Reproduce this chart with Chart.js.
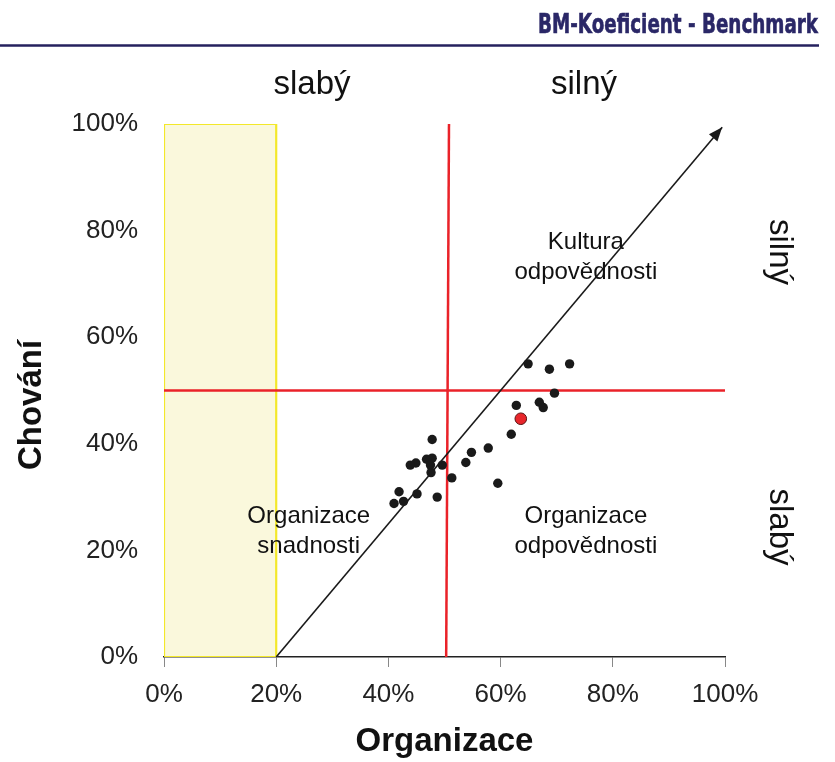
<!DOCTYPE html>
<html><head><meta charset="utf-8">
<script src="https://cdn.jsdelivr.net/npm/chart.js@4/dist/chart.umd.min.js"></script>
<style>html,body{margin:0;padding:0;background:#fff}#wrap{width:835px;height:762px;position:relative}</style>
</head><body>
<div id="wrap"><canvas id="c"></canvas></div>
<script>
// ---- data ----
const headerTitle = 'BM-Koeficient - Benchmark';
const xTitle = 'Organizace';
const yTitle = 'Chování';
const tickLabels = ['0%', '20%', '40%', '60%', '80%', '100%'];
const tickValues = [0, 20, 40, 60, 80, 100];
const columnLabels = ['slabý', 'silný'];        // top: Organizace weak / strong
const rowLabels = ['silný', 'slabý'];           // right: Chování strong / weak
const quadrantTexts = [['Kultura', 'odpovědnosti'], ['Organizace', 'snadnosti'], ['Organizace', 'odpovědnosti']];
const quadrantX = [75.2, 25.8, 75.2];
const quadrantY = [75.0, 23.6, 23.6];

// benchmark companies (Organizace %, Chování %)
const orgValues = [64.9, 68.7, 72.3, 69.6, 62.8, 66.9, 67.6, 61.9, 57.8, 54.8, 53.8, 59.5, 51.3, 49.6, 47.8, 47.8, 46.8, 47.5, 47.6, 44.9, 43.9, 48.7, 45.1, 41.9, 42.7, 41.0];
const behValues = [55.0, 54.0, 55.0, 49.5, 47.2, 47.8, 46.8, 41.8, 39.2, 38.4, 36.5, 32.6, 33.6, 36.0, 40.8, 37.3, 37.1, 36.0, 34.6, 36.4, 36.0, 30.0, 30.6, 31.0, 29.2, 28.8];
// highlighted company
const ownOrg = [63.6];
const ownBeh = [44.7];

// weak zone (Organizace 0–20 %), thresholds and trend arrow
const weakZoneX = [0, 0, 20, 20];
const weakZoneY = [0, 100, 100, 0];
const weakBaseX = [0, 20];
const weakBaseY = [0, 0];
const thresholdVX = [50.8, 50.3];
const thresholdVY = [100, 0];
const thresholdHX = [0, 100];
const thresholdHY = [50, 50];
const trendX = [20, 99.5];
const trendY = [0, 99.4];

const pts = (xs, ys) => xs.map((x, i) => ({x, y: ys[i]}));

const FONT = "'Liberation Sans', Arial, sans-serif";

const extras = {
  id: 'extras',
  afterDatasetsDraw(chart) {
    const {ctx} = chart;
    const xs = chart.scales.x, ys = chart.scales.y;
    // arrow head on trend line
    const x1 = xs.getPixelForValue(trendX[0]), y1 = ys.getPixelForValue(trendY[0]);
    const x2 = xs.getPixelForValue(trendX[1]), y2 = ys.getPixelForValue(trendY[1]);
    const a = Math.atan2(y2 - y1, x2 - x1);
    ctx.save();
    ctx.fillStyle = '#1a1a1a';
    ctx.beginPath();
    ctx.moveTo(x2, y2);
    ctx.lineTo(x2 - 14 * Math.cos(a) + 5.5 * Math.sin(a), y2 - 14 * Math.sin(a) - 5.5 * Math.cos(a));
    ctx.lineTo(x2 - 14 * Math.cos(a) - 5.5 * Math.sin(a), y2 - 14 * Math.sin(a) + 5.5 * Math.cos(a));
    ctx.closePath();
    ctx.fill();
    ctx.restore();
  },
  afterDraw(chart) {
    const {ctx} = chart;
    const xs = chart.scales.x, ys = chart.scales.y;
    ctx.save();
    // header
    ctx.fillStyle = '#2a2767';
    ctx.font = "bold 27px 'Liberation Sans Narrow', 'DejaVu Sans Condensed', sans-serif";
    ctx.textAlign = 'right';
    ctx.textBaseline = 'alphabetic';
    const w = ctx.measureText(headerTitle).width;
    ctx.save();
    ctx.translate(818, 33);
    ctx.scale(280 / w, 1);
    ctx.fillText(headerTitle, 0, 0);
    ctx.strokeStyle = '#2a2767';
    ctx.lineWidth = 0.6;
    ctx.strokeText(headerTitle, 0, 0);
    ctx.restore();
    ctx.strokeStyle = '#25215e';
    ctx.lineWidth = 2.5;
    ctx.beginPath();
    ctx.moveTo(0, 45.5);
    ctx.lineTo(819, 45.5);
    ctx.stroke();

    ctx.fillStyle = '#111';
    ctx.textAlign = 'center';
    ctx.textBaseline = 'middle';
    // top column labels
    ctx.font = '33px ' + FONT;
    ctx.fillText(columnLabels[0], 312, 85);
    ctx.fillText(columnLabels[1], 584, 85);
    // right row labels
    [[rowLabels[0], 252], [rowLabels[1], 527]].forEach(([t, y]) => {
      ctx.save();
      ctx.translate(779, y);
      ctx.rotate(Math.PI / 2);
      ctx.fillText(t, 0, 0);
      ctx.restore();
    });
    // quadrant texts
    ctx.font = '24px ' + FONT;
    quadrantTexts.forEach((lines, i) => {
      const cx = xs.getPixelForValue(quadrantX[i]);
      const cy = ys.getPixelForValue(quadrantY[i]);
      ctx.fillText(lines[0], cx, cy - 15);
      ctx.fillText(lines[1], cx, cy + 15);
    });
    // y title
    ctx.font = 'bold 33px ' + FONT;
    ctx.save();
    ctx.translate(32, 405);
    ctx.rotate(-Math.PI / 2);
    ctx.fillText(yTitle, 0, 0);
    ctx.restore();
    ctx.restore();
  }
};

new Chart(document.getElementById('c'), {
  type: 'scatter',
  data: {
    datasets: [
      { label: 'own', data: pts(ownOrg, ownBeh), order: 0,
        pointRadius: 5.8, pointBackgroundColor: '#e8262b', pointBorderColor: '#5a1010', pointBorderWidth: 1 },
      { label: 'companies', data: pts(orgValues, behValues), order: 1,
        pointRadius: 4.7, pointBackgroundColor: '#1a1a1a', pointBorderColor: '#1a1a1a', pointBorderWidth: 0 },
      { label: 'trend', type: 'line', data: pts(trendX, trendY), order: 2,
        borderColor: '#1a1a1a', borderWidth: 1.6, pointRadius: 0, fill: false },
      { label: 'vert', type: 'line', data: pts(thresholdVX, thresholdVY), order: 3,
        borderColor: '#ea2229', borderWidth: 2.5, pointRadius: 0, fill: false },
      { label: 'horiz', type: 'line', data: pts(thresholdHX, thresholdHY), order: 3,
        borderColor: '#ea2229', borderWidth: 2.5, pointRadius: 0, fill: false },
      { label: 'weakBase', type: 'line', data: pts(weakBaseX, weakBaseY), order: 4,
        borderColor: '#f3e82a', borderWidth: 2.2, pointRadius: 0, fill: false },
      { label: 'weak', type: 'line', data: pts(weakZoneX, weakZoneY), order: 5,
        borderColor: '#f3e82a', borderWidth: 2.2, backgroundColor: '#faf8dc', pointRadius: 0, fill: 'origin' }
    ]
  },
  options: {
    responsive: true,
    maintainAspectRatio: false,
    animation: false,
    events: [],
    layout: { padding: { top: 124, right: 110, bottom: 0, left: 0 } },
    plugins: { legend: { display: false }, tooltip: { enabled: false } },
    scales: {
      x: {
        type: 'linear', min: 0, max: 100,
        afterFit: s => { s.height = 105; },
        afterBuildTicks: s => { s.ticks = tickValues.map(v => ({value: v})); },
        ticks: { callback: (v) => tickLabels[tickValues.indexOf(v)], color: '#222', font: { family: FONT, size: 26 }, padding: 12, maxRotation: 0 },
        grid: { drawOnChartArea: false, drawTicks: true, tickLength: 10, color: '#888' },
        border: { color: '#222', width: 1.5 },
        title: { display: true, text: xTitle, color: '#111', font: { family: FONT, size: 33, weight: 'bold' }, padding: { top: 0, bottom: 0 } }
      },
      y: {
        type: 'linear', min: 0, max: 100,
        afterFit: s => { s.width = 164; },
        afterBuildTicks: s => { s.ticks = tickValues.map(v => ({value: v})); },
        ticks: { callback: (v) => tickLabels[tickValues.indexOf(v)], color: '#222', font: { family: FONT, size: 26 }, padding: 26 },
        grid: { display: false, drawTicks: false },
        border: { display: false }
      }
    }
  },
  plugins: [extras]
});
</script>
</body></html>
